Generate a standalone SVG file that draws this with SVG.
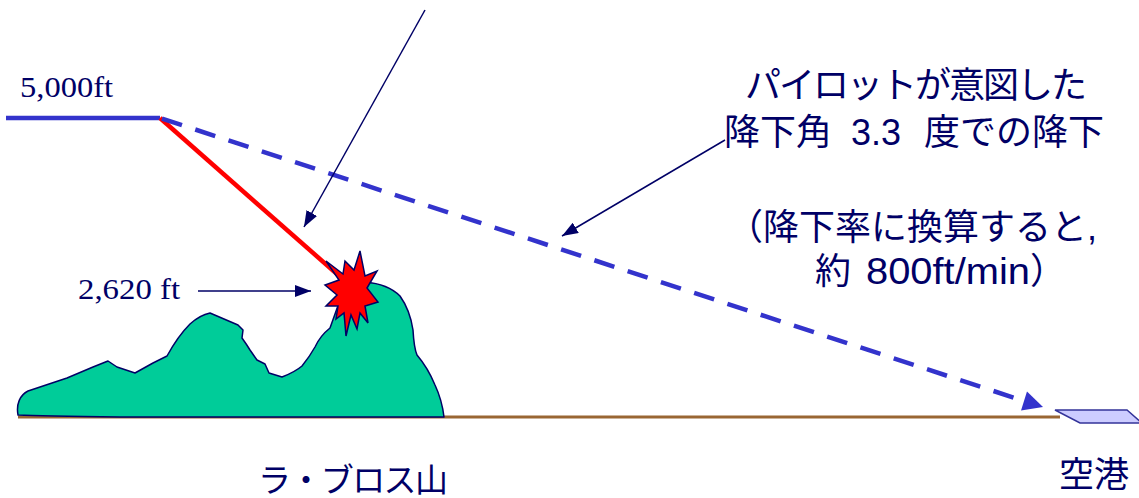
<svg xmlns="http://www.w3.org/2000/svg" width="1139" height="498" viewBox="0 0 1139 498">
  <style>
    .serif { font-family: "Liberation Serif", "Times New Roman", serif; fill: #000066; }
    .jp { font-family: "Liberation Sans", "Noto Sans CJK JP", sans-serif; fill: #000066; }
    .pointer { stroke: #000066; stroke-width: 1.5; fill: none; }
    .flight { stroke: #3333CC; stroke-width: 4.5; fill: none; }
  </style>
  <defs>
    <marker id="navyHead" markerUnits="userSpaceOnUse" markerWidth="16" markerHeight="12" viewBox="0 0 16 12" refX="16" refY="6" orient="auto">
      <path d="M0,0 L16,6 L0,12 Z" fill="#000066"/>
    </marker>
  </defs>

  <rect width="1139" height="498" fill="#FFFFFF"/>

  <!-- ground -->
  <g id="ground">
    <line x1="18" y1="417" x2="1060" y2="417" stroke="#996633" stroke-width="3"/>
  </g>

  <!-- mountain -->
  <g id="mountain">
    <path d="M18,415 C16,404 20,395 28,391 L67,378 L93,367 L108,361 L117,367 L135,373 L153,363 L167,356
             Q178,336 190,324 Q200,315 210,313 L238,325 L243,330 L242,338 Q247,345 250,350 L257,360 L265,364
             L269,373 L282,377 Q295,372 302,366 Q310,356 315,347 Q320,336 330,328 L340,300 L355,285 L365,282
             Q388,284 400,296 Q410,310 413,330 Q414,348 417,355 Q428,368 435,385 Q442,400 444,417
             L120,417 Q40,416 18,415 Z"
          fill="#00CC99" stroke="#000066" stroke-width="1.5" stroke-linejoin="round"/>
  </g>

  <!-- flight paths and pointers -->
  <g id="connectors">
    <line class="flight" x1="6" y1="118" x2="160" y2="118"/>
    <line x1="160" y1="118" x2="346" y2="282" stroke="#FF0000" stroke-width="4.5"/>
    <line class="flight" x1="162" y1="118.6" x2="1024" y2="401" stroke-dasharray="21 14"/>
    <polygon points="1043,407 1021,410.5 1027,391.5" fill="#3333CC"/>
    <line class="pointer" x1="425" y1="10" x2="304" y2="227" marker-end="url(#navyHead)"/>
    <line class="pointer" x1="198" y1="291" x2="311" y2="291" marker-end="url(#navyHead)"/>
    <line class="pointer" x1="725" y1="140" x2="562" y2="236" marker-end="url(#navyHead)"/>
  </g>

  <!-- impact -->
  <g id="explosion">
    <polygon points="360,251 365,276 377,271 367,288 378,302 365,306 368,323 360,313 357,329 351,315 346,336 344,313 336,319 338,306 326,306 337,295 325,285 339,280 326,261 343,274 345,261 354,270"
             fill="#FF0000" stroke="#000066" stroke-width="1.5" stroke-linejoin="miter"/>
  </g>

  <!-- runway -->
  <g id="airport">
    <polygon points="1055,410 1127,410 1142,423 1080,423" fill="#CCCCFF" stroke="#333399" stroke-width="1.5"/>
    <text class="jp" x="1059" y="487" font-size="35">空港</text>
  </g>

  <g id="label-altitude">
    <text class="serif" x="20" y="97" font-size="30" textLength="93" lengthAdjust="spacingAndGlyphs">5,000ft</text>
  </g>

  <g id="label-impact">
    <text class="serif" x="78" y="299" font-size="30" textLength="102" lengthAdjust="spacingAndGlyphs">2,620 ft</text>
  </g>

  <g id="label-mountain">
    <text class="jp" x="258" y="492" font-size="33" textLength="190">ラ・ブロス山</text>
  </g>

  <g id="label-intended">
    <text class="jp" x="745" y="98" font-size="36" textLength="342">パイロットが意図した</text>
    <text class="jp" y="145" font-size="36"><tspan x="724">降下角</tspan><tspan x="851">3.3</tspan><tspan x="924">度での降下</tspan></text>
    <text class="jp" x="727" y="240" font-size="36">（降下率に換算すると,</text>
    <text class="jp" y="284" font-size="36"><tspan x="815">約</tspan><tspan x="866" textLength="164" lengthAdjust="spacingAndGlyphs">800ft/min</tspan><tspan x="1030">）</tspan></text>
  </g>
</svg>
